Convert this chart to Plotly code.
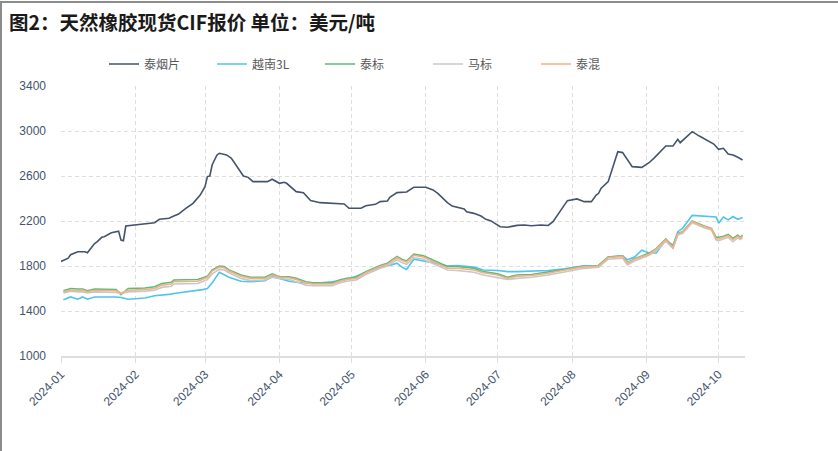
import plotly.graph_objects as go

# ---------------- data ----------------
yan_dates = ["2024-01-01","2024-01-04","2024-01-05","2024-01-08","2024-01-11","2024-01-12","2024-01-15",
             "2024-01-16","2024-01-18","2024-01-19","2024-01-22","2024-01-25","2024-01-26","2024-01-27",
             "2024-01-28","2024-02-09","2024-02-11","2024-02-15","2024-02-17","2024-02-19","2024-02-22",
             "2024-02-24","2024-02-25","2024-02-28","2024-03-01","2024-03-02","2024-03-03","2024-03-04",
             "2024-03-06","2024-03-07","2024-03-08","2024-03-10","2024-03-12","2024-03-14","2024-03-16",
             "2024-03-17","2024-03-19","2024-03-21","2024-03-27","2024-03-29","2024-04-01","2024-04-03",
             "2024-04-04","2024-04-08","2024-04-11","2024-04-14","2024-04-18","2024-04-23","2024-04-28",
             "2024-04-30","2024-05-05","2024-05-07","2024-05-11","2024-05-13","2024-05-16","2024-05-17",
             "2024-05-20","2024-05-24","2024-05-27","2024-06-01","2024-06-04","2024-06-06","2024-06-10",
             "2024-06-12","2024-06-17","2024-06-18","2024-06-21","2024-06-24","2024-06-26","2024-06-28",
             "2024-07-01","2024-07-02","2024-07-05","2024-07-09","2024-07-12","2024-07-15","2024-07-19",
             "2024-07-22","2024-07-24","2024-07-26","2024-07-29","2024-07-30","2024-08-03","2024-08-06",
             "2024-08-09","2024-08-11","2024-08-12","2024-08-13","2024-08-16","2024-08-18","2024-08-20",
             "2024-08-22","2024-08-24","2024-08-26","2024-08-30","2024-09-02","2024-09-04","2024-09-09",
             "2024-09-12","2024-09-14","2024-09-15","2024-09-20","2024-09-23","2024-09-28","2024-09-29",
             "2024-10-01","2024-10-03","2024-10-05","2024-10-07","2024-10-09","2024-10-11"]
tai_yan = [1840,1870,1900,1927,1927,1918,2000,
           2015,2055,2060,2095,2110,2030,2025,
           2155,2185,2215,2225,2245,2262,2313,
           2342,2357,2430,2505,2595,2600,2700,
           2787,2802,2795,2787,2757,2698,2638,
           2600,2588,2550,2550,2571,2535,2544,
           2535,2461,2452,2381,2363,2357,2351,
           2313,2313,2336,2348,2372,2378,2410,
           2452,2458,2500,2500,2476,2446,2363,
           2333,2307,2283,2268,2244,2215,2203,
           2164,2149,2144,2161,2164,2158,2164,
           2160,2194,2253,2342,2381,2396,2372,
           2372,2431,2446,2490,2550,2683,2816,
           2808,2742,2683,2677,2718,2757,2867,
           2867,2926,2896,2994,2955,2896,2884,
           2837,2846,2796,2787,2766,2742]

low_dates = ["2024-01-02","2024-01-05","2024-01-08","2024-01-10","2024-01-12","2024-01-15","2024-01-24",
             "2024-01-26","2024-01-29","2024-02-05","2024-02-09","2024-02-12","2024-02-16","2024-02-17",
             "2024-02-27","2024-02-29","2024-03-02","2024-03-04","2024-03-07","2024-03-09","2024-03-11",
             "2024-03-16","2024-03-20","2024-03-26","2024-03-29","2024-04-01","2024-04-05","2024-04-08",
             "2024-04-12","2024-04-15","2024-04-23","2024-04-26","2024-04-29","2024-05-03","2024-05-07",
             "2024-05-13","2024-05-16","2024-05-20","2024-05-22","2024-05-24","2024-05-27","2024-05-31",
             "2024-06-04","2024-06-10","2024-06-14","2024-06-21","2024-06-25","2024-07-01","2024-07-05",
             "2024-07-09","2024-07-15","2024-07-22","2024-07-29","2024-08-05","2024-08-12","2024-08-16",
             "2024-08-22","2024-08-24","2024-08-27","2024-08-30","2024-09-02","2024-09-05","2024-09-09",
             "2024-09-12","2024-09-14","2024-09-16","2024-09-20","2024-09-25","2024-09-28","2024-09-30",
             "2024-10-01","2024-10-03","2024-10-05","2024-10-07","2024-10-09","2024-10-10","2024-10-11"]
vietnam_3l = [1500,1525,1505,1525,1505,1525,1525,
              1520,1505,1515,1535,1540,1550,1555,
              1580,1590,1600,1650,1745,1720,1700,
              1665,1660,1670,1705,1690,1665,1655,
              1650,1645,1660,1670,1680,1710,1745,
              1790,1800,1825,1790,1770,1860,1845,
              1830,1800,1805,1790,1765,1760,1750,
              1750,1755,1760,1775,1800,1805,1880,
              1890,1855,1880,1940,1915,1915,2030,
              1985,2105,2135,2250,2245,2240,2235,
              2180,2235,2210,2240,2215,2225,2232]
tai_biao = [1580,1600,1595,1595,1580,1595,1590,
            1545,1600,1605,1615,1645,1655,1675,
            1680,1695,1710,1765,1800,1795,1765,
            1720,1700,1700,1730,1705,1705,1690,
            1660,1650,1650,1675,1690,1700,1750,
            1805,1825,1885,1860,1845,1905,1890,
            1850,1795,1795,1780,1750,1730,1700,
            1720,1725,1745,1770,1795,1805,1880,
            1890,1830,1865,1890,1915,1955,2040,
            1970,2090,2105,2200,2155,2135,2055,
            2055,2065,2080,2045,2075,2055,2075]
ma_biao = [1560,1575,1570,1570,1560,1570,1565,
           1555,1570,1575,1585,1610,1620,1640,
           1645,1660,1680,1730,1770,1765,1740,
           1690,1670,1675,1700,1690,1680,1660,
           1630,1625,1625,1650,1665,1675,1725,
           1780,1800,1855,1830,1815,1875,1860,
           1820,1765,1760,1745,1720,1700,1680,
           1690,1700,1720,1750,1775,1790,1860,
           1870,1810,1845,1870,1895,1935,2020,
           1955,2075,2090,2185,2140,2120,2030,
           2025,2040,2055,2015,2050,2035,2050]
tai_hun = [1570,1585,1580,1585,1570,1585,1580,
           1560,1585,1590,1600,1630,1640,1660,
           1665,1680,1700,1755,1790,1785,1755,
           1710,1690,1690,1720,1700,1695,1680,
           1650,1640,1640,1665,1680,1690,1740,
           1795,1815,1875,1850,1835,1895,1880,
           1840,1780,1780,1765,1740,1720,1690,
           1710,1715,1735,1765,1790,1800,1875,
           1885,1825,1860,1880,1905,1950,2035,
           1965,2085,2100,2195,2150,2130,2040,
           2040,2055,2070,2035,2065,2045,2065]

y_ticks = [1000, 1400, 1800, 2200, 2600, 3000, 3400]
x_ticks = ["2024-01-01","2024-02-01","2024-03-01","2024-04-01","2024-05-01",
           "2024-06-01","2024-07-01","2024-08-01","2024-09-01","2024-10-01"]
x_tick_text = ["2024-01","2024-02","2024-03","2024-04","2024-05",
               "2024-06","2024-07","2024-08","2024-09","2024-10"]

# ---------------- figure ----------------
W, H = 838, 451
ML, MR, MT, MB = 61, 93, 86, 95
PW, PH = W - ML - MR, H - MT - MB

def px_x(p):
    return (p - ML) / PW

def px_y(p):
    return (H - MB - p) / PH

CJK = "Noto Sans CJK SC, Microsoft YaHei, sans-serif"
TICK_COLOR = "#44546A"
GRID = "#DEDEDE"

fig = go.Figure()
series = [
    ("泰烟片", yan_dates, tai_yan, "#44546A"),
    ("越南3L", low_dates, vietnam_3l, "#4FC4EC"),
    ("泰标", low_dates, tai_biao, "#5DBB78"),
    ("马标", low_dates, ma_biao, "#C8C8C8"),
    ("泰混", low_dates, tai_hun, "#F4AF84"),
]
for name, xs, ys, color in series:
    fig.add_trace(go.Scatter(x=xs, y=ys, mode="lines", name=name,
                             line=dict(color=color, width=1.6)))

fig.update_layout(
    width=W, height=H,
    margin=dict(l=ML, r=MR, t=MT, b=MB),
    paper_bgcolor="white", plot_bgcolor="white",
    font=dict(family=CJK, size=12, color=TICK_COLOR),
    showlegend=True,
    legend=dict(orientation="h", x=px_x(104), xanchor="left",
                y=px_y(64), yanchor="middle",
                font=dict(family=CJK, size=12, color="#595959"),
                entrywidth=63, itemwidth=30,
                bgcolor="rgba(0,0,0,0)"),
    annotations=[dict(text="<b>图2：天然橡胶现货CIF报价 单位：美元/吨</b>",
                      xref="paper", yref="paper", x=px_x(7), y=px_y(21),
                      xanchor="left", yanchor="middle", showarrow=False,
                      font=dict(family=CJK, size=19.5, color="#1a1a1a"))],
    shapes=[
        dict(type="line", xref="paper", yref="paper", x0=px_x(1), x1=px_x(1),
             y0=px_y(2), y1=px_y(H), line=dict(color="#8c8c8c", width=2)),
        dict(type="line", xref="paper", yref="paper", x0=px_x(0), x1=px_x(W),
             y0=px_y(2), y1=px_y(2), line=dict(color="#8c8c8c", width=2)),
    ],
)

fig.update_xaxes(
    range=["2024-01-01", "2024-10-12"],
    tickmode="array", tickvals=x_ticks, ticktext=x_tick_text,
    tickangle=-45, tickfont=dict(family="Liberation Sans, Arial, sans-serif", size=12, color=TICK_COLOR),
    showgrid=True, gridcolor=GRID, griddash="4px,3px", gridwidth=1,
    showline=True, linecolor=GRID, linewidth=1.5,
    ticks="outside", ticklen=5, tickcolor=GRID,
    zeroline=False,
)
fig.update_yaxes(
    range=[1000, 3400], tickmode="array", tickvals=y_ticks,
    tickfont=dict(family="Liberation Sans, Arial, sans-serif", size=12, color=TICK_COLOR),
    showgrid=True, gridcolor=GRID, griddash="4px,3px", gridwidth=1,
    showline=False, zeroline=False, ticks="", ticklabelstandoff=14,
)

fig.write_html("out.html")
